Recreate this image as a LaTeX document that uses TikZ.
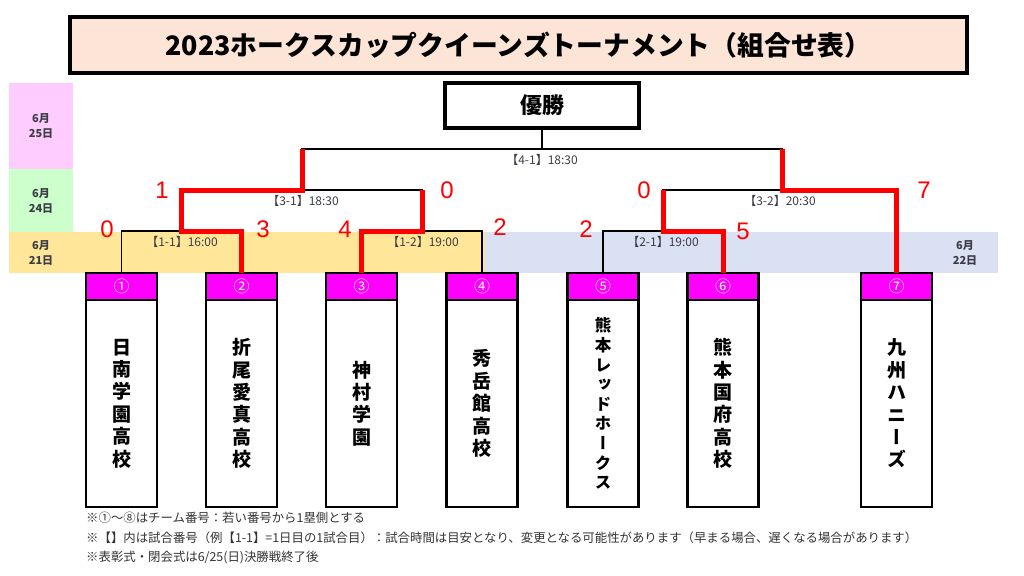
\documentclass[tikz,border=0pt]{standalone}
\usepackage{fontspec}
\setmainfont{Noto Sans CJK JP}
\newfontfamily\tatefont[RawFeature=+vert]{Noto Sans CJK JP}
\newfontfamily\scorefont{Liberation Sans}
\usetikzlibrary{positioning}
\definecolor{titlebg}{HTML}{FCE4D6}
\definecolor{day25}{HTML}{FFCCFF}
\definecolor{day24}{HTML}{CCFFCC}
\definecolor{day21}{HTML}{FFE699}
\definecolor{day22}{HTML}{D9E1F2}
\definecolor{teamhead}{HTML}{FF00FF}
\definecolor{wonline}{HTML}{FF0000}
\definecolor{labelgray}{HTML}{3C3C46}
\tikzset{
    datebox/.style={minimum width=64, inner sep=0, align=center, text=labelgray,
        font=\bfseries\fontsize{11}{15}\selectfont},
    headbox/.style={draw, line width=2.4, fill=teamhead, minimum width=71, minimum height=27,
        inner sep=0, outer sep=0, text=white, font=\fontsize{16}{16}\selectfont},
    namebox/.style={draw, line width=2.4, fill=white, minimum width=71, minimum height=207,
        inner sep=0, outer sep=0, align=center, font=\tatefont\bfseries\fontsize{19}{22.4}\selectfont},
    score/.style={text=wonline, font=\scorefont\fontsize{24}{24}\selectfont},
    gamelabel/.style={text=labelgray, font=\fontsize{12}{12}\selectfont},
    note/.style={anchor=west, inner sep=0, text=black!80, font=\fontsize{12.4}{12.4}\selectfont},
    bracket/.style={line width=1.6},
    winpath/.style={wonline, line width=5}
}

\begin{document}
\begin{tikzpicture}[x=1pt, y=-1pt]
    \useasboundingbox (0,0) rectangle (1024,575);

    \fill[day21] (9,232) rectangle (485,273);
    \fill[day22] (485,232) rectangle (998,273);
    \node[datebox, fill=day25, minimum height=86] (d25) at (41,126) {6月\\25日};
    \node[datebox, fill=day24, minimum height=63] (d24) at (41,200.5) {6月\\24日};
    \node[datebox] (d21) at (41,252.5) {6月\\21日};
    \node[datebox] (d22) at (965,252.5) {6月\\22日};

    \node[draw, line width=4, fill=titlebg, minimum width=897, minimum height=56,
        font=\bfseries\fontsize{26.8}{26.8}\selectfont] (title) at (518.5,45)
        {2023ホークスカップクイーンズトーナメント（組合せ表）};
    \node[draw, line width=4, fill=white, minimum width=194, minimum height=45,
        font=\bfseries\fontsize{22}{22}\selectfont] (win) at (542,105.5) {優勝};

    \node[headbox] (t1) at (121.5,286.5) {①};
    \node[headbox] (t2) at (241.5,286.5) {②};
    \node[headbox] (t3) at (361.5,286.5) {③};
    \node[headbox] (t4) at (482,286.5) {④};
    \node[headbox] (t5) at (603,286.5) {⑤};
    \node[headbox] (t6) at (723,286.5) {⑥};
    \node[headbox] (t7) at (896.5,286.5) {⑦};
    \node[namebox, below=0pt of t1] (b1) {日\\南\\学\\園\\高\\校};
    \node[namebox, below=0pt of t2] (b2) {折\\尾\\愛\\真\\高\\校};
    \node[namebox, below=0pt of t3] (b3) {神\\村\\学\\園};
    \node[namebox, below=0pt of t4] (b4) {秀\\岳\\館\\高\\校};
    \node[namebox, below=0pt of t5, font=\tatefont\bfseries\fontsize{16.5}{19.6}\selectfont] (b5)
        {熊\\本\\レ\\ッ\\ド\\ホ\\ー\\ク\\ス};
    \node[namebox, below=0pt of t6] (b6) {熊\\本\\国\\府\\高\\校};
    \node[namebox, below=0pt of t7] (b7) {九\\州\\ハ\\ニ\\ー\\ズ};

    \coordinate (m11) at (181.5,231);
    \coordinate (m12) at (422,231);
    \coordinate (m21) at (663,231);
    \coordinate (s31) at (302,190);
    \coordinate (s32) at (782,190);
    \coordinate (f41) at (542,149);

    \draw[bracket] (t1.north) |- (m11) -| (t2.north);
    \draw[bracket] (t3.north) |- (m12) -| (t4.north);
    \draw[bracket] (t5.north) |- (m21) -| (t6.north);
    \draw[bracket] (m11) |- (s31) -| (m12);
    \draw[bracket] (m21) |- (s32) -| (t7.north);
    \draw[bracket] (s31) |- (f41) -| (s32);
    \draw[bracket] (f41) -- (win.south);

    \draw[winpath] (t2.north) |- (m11) |- (s31) -- (s31 |- f41);
    \draw[winpath] (t3.north) |- (m12) -- (m12 |- s31);
    \draw[winpath] (t6.north) |- (m21) -- (m21 |- s32);
    \draw[winpath] (t7.north) |- (s32) -- (s32 |- f41);

    \node[gamelabel] (g41) at (542,160) {【4-1】18:30};
    \node[gamelabel] (g31) at (303,201) {【3-1】18:30};
    \node[gamelabel] (g32) at (780,201) {【3-2】20:30};
    \node[gamelabel] (g11) at (182,242) {【1-1】16:00};
    \node[gamelabel] (g12) at (423,242) {【1-2】19:00};
    \node[gamelabel] (g21) at (663,242) {【2-1】19:00};

    \node[score] (p1) at (107,229) {0};
    \node[score] (p2) at (263,229) {3};
    \node[score] (p3) at (345,229) {4};
    \node[score] (p4) at (500,227) {2};
    \node[score] (p5) at (586,229) {2};
    \node[score] (p6) at (743,231) {5};
    \node[score] (q1) at (162,190) {1};
    \node[score] (q2) at (447,190) {0};
    \node[score] (q3) at (644,190) {0};
    \node[score] (q4) at (924,190) {7};

    \node[note] (n1) at (86,518) {※①～⑧はチーム番号：若い番号から1塁側とする};
    \node[note] (n2) at (86,537.5) {※【】内は試合番号（例【1-1】=1日目の1試合目）：試合時間は目安となり、変更となる可能性があります（早まる場合、遅くなる場合があります）};
    \node[note] (n3) at (86,557) {※表彰式・閉会式は6/25(日)決勝戦終了後};
\end{tikzpicture}
\end{document}
